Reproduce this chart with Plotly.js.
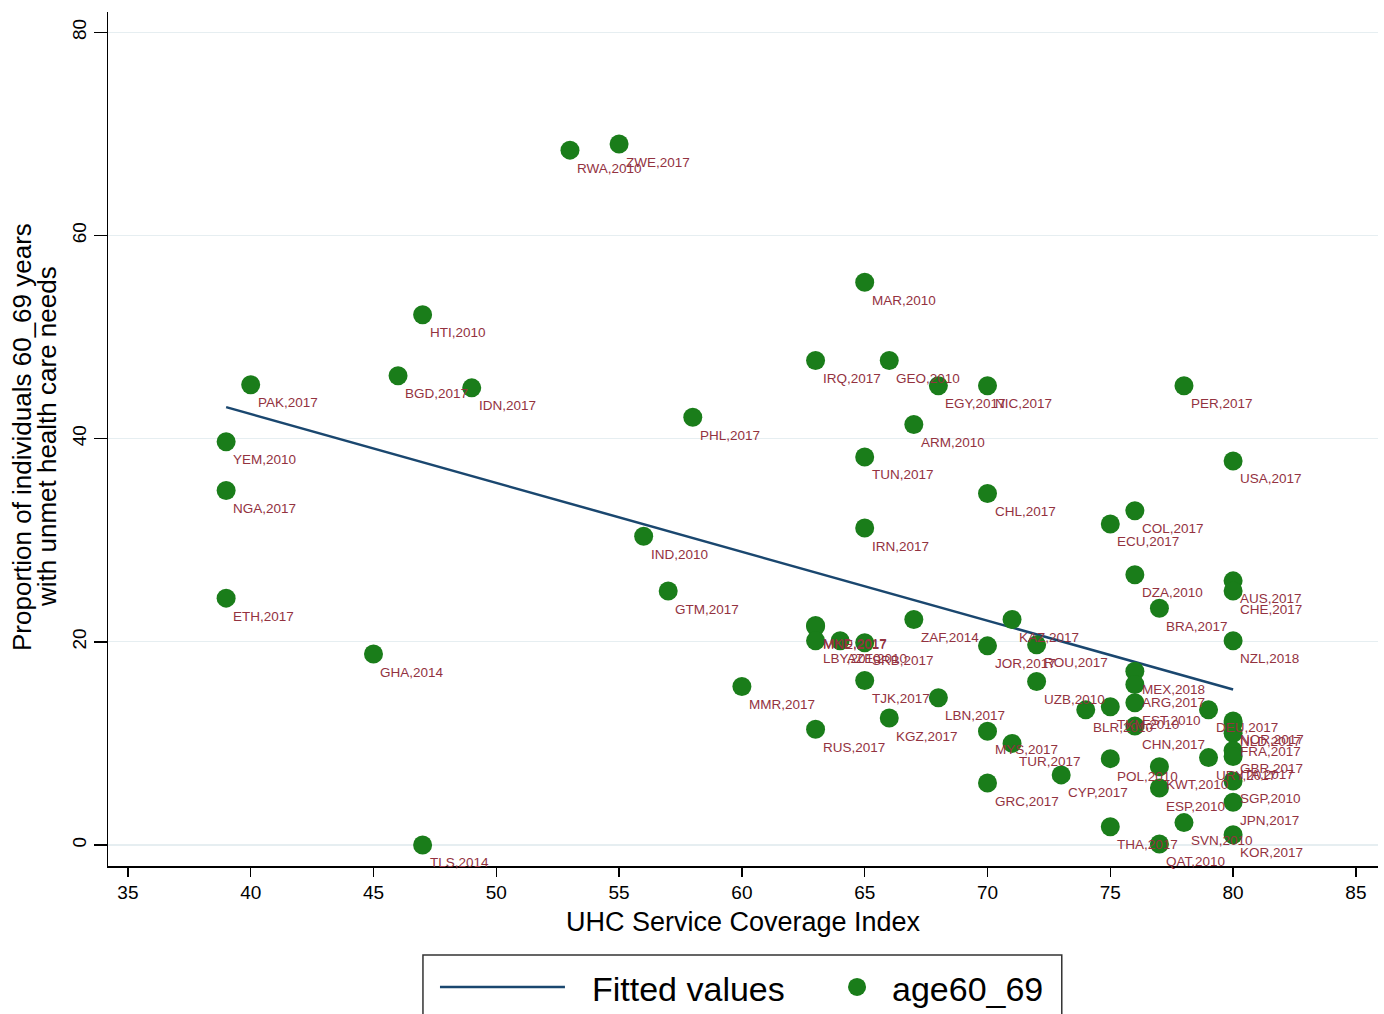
<!DOCTYPE html>
<html>
<head>
<meta charset="utf-8">
<script src="https://cdn.plot.ly/plotly-3.0.1.min.js"></script>
<style>html,body{margin:0;padding:0;background:#fff;}#chart{width:1384px;height:1014px;}</style>
</head>
<body>
<div id="chart"></div>
<script>
// UHC Service Coverage Index (x), proportion 60_69 with unmet needs (y), label
const uhcIndex = [53,55,65,47,63,66,68,70,40,46,49,78,58,67,39,65,80,39,70,76,75,65,56,76,80,80,57,39,77,67,71,80,63,63,63,64,65,45,70,72,76,76,65,72,60,68,74,75,76,79,66,80,80,80,76,63,70,71,75,77,79,80,80,73,77,70,80,80,75,78,77,80,47];
const unmetNeed = [68.4,69.0,55.4,52.2,47.7,47.7,45.2,45.2,45.3,46.2,45.0,45.2,42.1,41.4,39.7,38.2,37.8,34.9,34.6,32.9,31.6,31.2,30.4,26.6,26.0,25.0,25.0,24.3,23.3,22.2,22.2,20.1,21.6,21.5,20.1,20.1,19.9,18.8,19.6,19.7,17.1,15.8,16.2,16.1,15.6,14.5,13.3,13.6,14.0,13.3,12.5,12.2,12.0,11.0,11.7,11.4,11.2,10.0,8.5,7.7,8.6,9.3,8.7,6.9,5.6,6.1,6.3,4.2,1.8,2.2,0.1,1.0,0.0];
const pointLabels = ["RWA,2010","ZWE,2017","MAR,2010","HTI,2010","IRQ,2017","GEO,2010","EGY,2017","NIC,2017","PAK,2017","BGD,2017","IDN,2017","PER,2017","PHL,2017","ARM,2010","YEM,2010","TUN,2017","USA,2017","NGA,2017","CHL,2017","COL,2017","ECU,2017","IRN,2017","IND,2010","DZA,2010","AUS,2017","CHE,2017","GTM,2017","ETH,2017","BRA,2017","ZAF,2014","KAZ,2017","NZL,2018","MKD,2017","MNE,2017","LBY,2010","AZE,2010","SRB,2017","GHA,2014","JOR,2017","ROU,2017","MEX,2018","ARG,2017","TJK,2017","UZB,2010","MMR,2017","LBN,2017","BLR,2010","TKM,2010","EST,2010","DEU,2017","KGZ,2017","NOR,2017","NLD,2017","FRA,2017","CHN,2017","RUS,2017","MYS,2017","TUR,2017","POL,2010","KWT,2010","URY,2017","GBR,2017","ITA,2017","CYP,2017","ESP,2010","GRC,2017","SGP,2010","JPN,2017","THA,2017","SVN,2010","QAT,2010","KOR,2017","TLS,2014"];
// Fitted values line endpoints
const fitX = [39, 80];
const fitY = [43.1, 15.3];
const xTicks = [35,40,45,50,55,60,65,70,75,80,85];
const yTicks = [0,20,40,60,80];
const yTitleLines = ['Proportion of individuals 60_69 years', 'with unmet health care needs'];

const green = '#1a7d1a';
const navy = '#1a476f';
const labelColor = '#93323f';
const FONT = 'Liberation Sans, Arial, Helvetica, sans-serif';

const traces = [
  {x: fitX, y: fitY, mode: 'lines', type: 'scatter', name: 'Fitted values',
   line: {color: navy, width: 2.5}, showlegend: false, hoverinfo: 'skip'},
  {x: uhcIndex, y: unmetNeed, mode: 'markers', type: 'scatter', name: 'age60_69',
   marker: {color: green, size: 19, line: {width: 0}}, showlegend: false, cliponaxis: false}
];

// marker labels, placed below-right of each point
const labelAnns = pointLabels.map((t, i) => ({
  x: uhcIndex[i], y: unmetNeed[i], xref: 'x', yref: 'y', text: t, showarrow: false,
  xanchor: 'left', yanchor: 'middle', xshift: 5, yshift: -18,
  font: {family: FONT, size: 13.5, color: labelColor}
}));

const layout = {
  width: 1384, height: 1014,
  margin: {l: 108, r: 6, t: 12, b: 148},
  paper_bgcolor: '#ffffff', plot_bgcolor: '#ffffff',
  font: {family: FONT, color: '#000'},
  showlegend: false,
  xaxis: {
    range: [34.19, 85.9], tickvals: xTicks, ticktext: xTicks.map(String),
    showgrid: false, zeroline: false, showline: true, linecolor: '#000', linewidth: 1.5,
    ticks: 'outside', ticklen: 9, tickwidth: 1.5, tickcolor: '#000',
    tickfont: {size: 19, color: '#000'},
    title: {text: 'UHC Service Coverage Index', font: {size: 27, color: '#000'}, standoff: 10}
  },
  yaxis: {
    range: [-2.07, 82.0], tickvals: yTicks, ticktext: yTicks.map(String),
    showgrid: true, gridcolor: '#e6eef1', gridwidth: 1.3, zeroline: false,
    showline: true, linecolor: '#000', linewidth: 1.5,
    ticks: 'outside', ticklen: 13, tickwidth: 1.5, tickcolor: '#000',
    tickangle: -90, tickfont: {size: 19, color: '#000'}
  },
  shapes: [
    {type: 'rect', xref: 'paper', yref: 'paper', x0: 0.248, x1: 0.751, y0: -0.1042, y1: -0.19,
     line: {color: '#333', width: 1.5}, fillcolor: 'rgba(0,0,0,0)'},
    {type: 'line', xref: 'paper', yref: 'paper', x0: 0.2614, x1: 0.3598, y0: -0.1417, y1: -0.1417,
     line: {color: navy, width: 2.5}},
    {type: 'circle', xref: 'paper', yref: 'paper', x0: 0.5827, x1: 0.5969, y0: -0.1311, y1: -0.1522,
     fillcolor: green, line: {width: 0}}
  ],
  annotations: labelAnns.concat([
    {xref: 'paper', yref: 'paper', x: 0.3795, y: -0.1445, xanchor: 'left', yanchor: 'middle',
     text: 'Fitted values', showarrow: false, font: {size: 34, color: '#000'}},
    {xref: 'paper', yref: 'paper', x: 0.6157, y: -0.1445, xanchor: 'left', yanchor: 'middle',
     text: 'age60_69', showarrow: false, font: {size: 34, color: '#000'}},
    {xref: 'paper', yref: 'paper', x: (22 - 108) / 1270, y: (866 - 437) / 854, xanchor: 'center', yanchor: 'middle',
     text: yTitleLines[0], textangle: -90, showarrow: false, font: {size: 26, color: '#000'}},
    {xref: 'paper', yref: 'paper', x: (47 - 108) / 1270, y: (866 - 437) / 854, xanchor: 'center', yanchor: 'middle',
     text: yTitleLines[1], textangle: -90, showarrow: false, font: {size: 26, color: '#000'}}
  ])
};

Plotly.newPlot('chart', traces, layout, {displayModeBar: false, staticPlot: true});
</script>
</body>
</html>
